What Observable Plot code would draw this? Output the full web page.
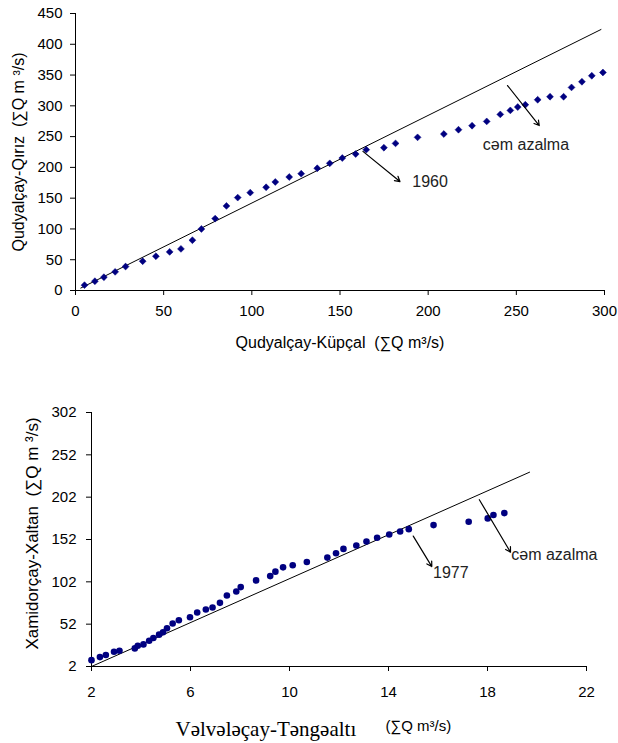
<!DOCTYPE html>
<html>
<head>
<meta charset="utf-8">
<script src="https://cdn.jsdelivr.net/npm/d3@7"></script>
<script src="https://cdn.jsdelivr.net/npm/@observablehq/plot@0.6"></script>
<style>
  html, body { margin: 0; padding: 0; background: #fff; }
  #chart svg { display: block; }
</style>
</head>
<body>
<div id="chart"></div>
<script>
// ---- Top panel: Qudyalçay-Küpçal vs Qudyalçay-Qırız ----
const topX = [5.1, 11.0, 16.1, 22.5, 28.4, 38.1, 45.6, 53.4, 59.8, 66.3, 71.4, 79.2, 85.6, 92.0, 99.1, 108.1, 113.3, 121.2, 128.0, 137.1, 144.2, 151.3, 158.9, 164.9, 174.9, 181.5, 194, 208.9, 217.2, 224.9, 233.2, 240.9, 246.6, 250.8, 255.1, 262.1, 269.1, 276.8, 281.3, 287.2, 292.8, 299.1];
const topY = [8.7, 15.1, 21.6, 30.3, 38.9, 47.6, 55.7, 62.7, 67.6, 81.7, 100, 116.8, 137.4, 150.9, 159, 167.7, 176.3, 184.4, 189.8, 198.5, 206.6, 215.2, 221.7, 228.8, 232, 239, 248.8, 254.2, 261.2, 267.7, 274.7, 286.1, 292.6, 298, 301.8, 309.9, 314.8, 314.8, 329.9, 339.1, 348.8, 354.2];
const topLineX = [3, 298];
const topLineY = [4, 424];
const topXTicks = [0, 50, 100, 150, 200, 250, 300];
const topYTicks = [0, 50, 100, 150, 200, 250, 300, 350, 400, 450];

// ---- Bottom panel: Vəlvələçay-Təngəaltı vs Xamidorçay-Xaltan ----
const botX = [2.0, 2.34, 2.58, 2.91, 3.13, 3.75, 3.87, 4.1, 4.33, 4.5, 4.73, 4.89, 5.05, 5.28, 5.53, 5.98, 6.27, 6.62, 6.89, 7.19, 7.47, 7.85, 8.03, 8.65, 9.22, 9.43, 9.74, 10.13, 10.7, 11.53, 11.88, 12.18, 12.7, 13.11, 13.54, 14.03, 14.47, 14.82, 15.82, 17.24, 18.01, 18.24, 18.68];
const botY = [9.5, 13.1, 15.5, 19.4, 20.6, 23.4, 26.5, 28.1, 32.5, 35.6, 39.6, 42.4, 47.1, 52.7, 56.6, 60.2, 65.7, 69.3, 71.6, 77.2, 85.9, 90.6, 95.8, 103.7, 108.8, 114, 119.1, 121.5, 125.5, 130.6, 135.8, 140.9, 144.9, 149.6, 154, 157.9, 161.5, 164.2, 169, 172.9, 176.9, 180.9, 183.2];
const botLineX = [2, 19.7];
const botLineY = [2, 231.5];
const botXTicks = [2, 6, 10, 14, 18, 22];
const botYTicks = [2, 52, 102, 152, 202, 252, 302];

// annotations (label, arrow start, arrow end, label anchor point)
const topAnnotations = [
  {label: "1960", x1: 163, y1: 226, x2: 184, y2: 177, tx: 191, ty: 176},
  {label: "cəm azalma", x1: 245, y1: 333, x2: 263, y2: 268, tx: 231, ty: 236}
];
const botAnnotations = [
  {label: "1977", x1: 15.0, y1: 156, x2: 15.75, y2: 120, tx: 15.8, ty: 113},
  {label: "cəm azalma", x1: 17.67, y1: 199, x2: 18.93, y2: 137, tx: 18.96, ty: 134}
];

const topPts = topX.map((x, i) => ({x, y: topY[i]}));
const topLine = topLineX.map((x, i) => ({x, y: topLineY[i]}));
const botPts = botX.map((x, i) => ({x, y: botY[i]}));
const botLine = botLineX.map((x, i) => ({x, y: botLineY[i]}));

const sans = "'Liberation Sans', Arial, sans-serif";
const serif = "'Liberation Serif', 'Times New Roman', serif";
const navy = "#000080";

const topPlot = Plot.plot({
  width: 618,
  height: 355,
  marginTop: 13,
  marginBottom: 65,
  marginLeft: 75,
  marginRight: 14,
  style: {fontFamily: sans, fontSize: "15px", color: "#000", background: "#fff"},
  x: {domain: [0, 300], ticks: topXTicks, label: null},
  y: {domain: [0, 450], ticks: topYTicks, label: null},
  marks: [
    Plot.axisX({ticks: topXTicks, tickSize: 5, tickPadding: 10, label: null}),
    Plot.axisY({ticks: topYTicks, tickSize: 5, tickPadding: 8, label: null}),
    Plot.ruleX([0]),
    Plot.ruleY([0]),
    Plot.line(topLine, {x: "x", y: "y", stroke: "#000", strokeWidth: 1}),
    Plot.dot(topPts, {x: "x", y: "y", symbol: "diamond2", r: 3.1, fill: navy, stroke: navy, strokeWidth: 0.5}),
    Plot.arrow(topAnnotations, {x1: "x1", y1: "y1", x2: "x2", y2: "y2", stroke: "#000", strokeWidth: 1.2, headLength: 7}),
    Plot.text(topAnnotations, {x: "tx", y: "ty", text: "label", textAnchor: "start", fontSize: 16, fill: "#222"}),
    Plot.text(["Qudyalçay-Küpçal  (∑Q m³/s)"], {frameAnchor: "bottom", lineAnchor: "bottom", dy: 57, fontSize: 16}),
    Plot.text(["Qudyalçay-Qırız  (∑Q m ³/s)"], {frameAnchor: "left", textAnchor: "middle", dx: -57, rotate: -90, fontSize: 16})
  ]
});

const botPlot = Plot.plot({
  width: 618,
  height: 388,
  marginTop: 57,
  marginBottom: 77,
  marginLeft: 91,
  marginRight: 32,
  style: {fontFamily: sans, fontSize: "15px", color: "#000", background: "#fff"},
  x: {domain: [2, 22], ticks: botXTicks, label: null},
  y: {domain: [2, 302], ticks: botYTicks, label: null},
  marks: [
    Plot.axisX({ticks: botXTicks, tickSize: 5, tickPadding: 15, label: null}),
    Plot.axisY({ticks: botYTicks, tickSize: 5, tickPadding: 10, label: null}),
    Plot.ruleX([2]),
    Plot.ruleY([2]),
    Plot.line(botLine, {x: "x", y: "y", stroke: "#000", strokeWidth: 1}),
    Plot.dot(botPts, {x: "x", y: "y", r: 3.3, fill: navy, stroke: null}),
    Plot.arrow(botAnnotations, {x1: "x1", y1: "y1", x2: "x2", y2: "y2", stroke: "#000", strokeWidth: 1.2, headLength: 7}),
    Plot.text(botAnnotations, {x: "tx", y: "ty", text: "label", textAnchor: "start", fontSize: 16, fill: "#222"}),
    Plot.text(["Vəlvələçay-Təngəaltı"], {frameAnchor: "bottom-left", lineAnchor: "bottom", dx: 84, dy: 69, textAnchor: "start", fontFamily: serif, fontSize: 21}),
    Plot.text(["(∑Q m³/s)"], {frameAnchor: "bottom-left", lineAnchor: "bottom", dx: 294, dy: 64, textAnchor: "start", fontSize: 15}),
    Plot.text(["Xamidorçay-Xaltan  (∑Q m ³/s)"], {frameAnchor: "left", textAnchor: "middle", dx: -59, dy: -6, rotate: -90, fontSize: 17})
  ]
});

const el = document.getElementById("chart");
el.appendChild(topPlot);
el.appendChild(botPlot);
</script>
</body>
</html>
